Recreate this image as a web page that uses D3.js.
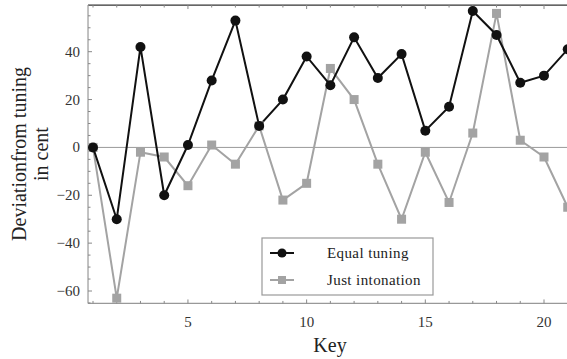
<!DOCTYPE html>
<html>
<head>
<meta charset="utf-8">
<script src="https://cdn.jsdelivr.net/npm/d3@7"></script>
<style>
  body { margin: 0; background: #fff; }
  svg { display: block; }
  svg text { font-family: "Liberation Serif", "DejaVu Serif", serif; }
</style>
</head>
<body>
<svg id="chart"></svg>
<script>
const keys = d3.range(1, 22);
const equalTuning = [0, -30, 42, -20, 1, 28, 53, 9, 20, 38, 26, 46, 29, 39, 7, 17, 57, 47, 27, 30, 41];
const justIntonation = [0, -63, -2, -4, -16, 1, -7, 9, -22, -15, 33, 20, -7, -30, -2, -23, 6, 56, 3, -4, -25];
const xTicks = [5, 10, 15, 20];
const yTicks = [-60, -40, -20, 0, 20, 40];

const svgWidth = 567, svgHeight = 359;
const svg = d3.select('#chart')
    .attr('width', svgWidth)
    .attr('height', svgHeight);

const x = d3.scaleLinear().domain([1, 20]).range([93, 544]);
const y = d3.scaleLinear().domain([-60, 40]).range([291, 51.7]);
const xMin = 0.79, xMax = 21.5, yMin = -65.2, yMax = 59.5;
const plotLeft = x(xMin), plotRight = x(xMax), plotTop = y(yMax), plotBottom = y(yMin);

// frame
svg.append('line').attr('x1', plotLeft).attr('x2', plotRight).attr('y1', plotTop).attr('y2', plotTop)
    .attr('stroke', '#333').attr('stroke-width', 1.2);
svg.append('line').attr('x1', plotLeft).attr('x2', plotLeft).attr('y1', plotTop).attr('y2', plotBottom)
    .attr('stroke', '#999').attr('stroke-width', 1.2);
svg.append('line').attr('x1', plotLeft).attr('x2', plotRight).attr('y1', plotBottom).attr('y2', plotBottom)
    .attr('stroke', '#999').attr('stroke-width', 1.2);

// zero line
svg.append('line').attr('x1', plotLeft).attr('x2', plotRight).attr('y1', y(0)).attr('y2', y(0))
    .attr('stroke', '#999').attr('stroke-width', 1);

// x ticks (bottom and top, pointing inward)
const xMinor = d3.range(1, 22);
svg.append('g').selectAll('line').data(xMinor).enter().append('line')
    .attr('x1', d => x(d)).attr('x2', d => x(d))
    .attr('y1', plotBottom).attr('y2', d => plotBottom - (d % 5 === 0 ? 4 : 2.5))
    .attr('stroke', '#888');
svg.append('g').selectAll('line').data(xMinor).enter().append('line')
    .attr('x1', d => x(d)).attr('x2', d => x(d))
    .attr('y1', plotTop).attr('y2', d => plotTop + (d % 5 === 0 ? 4 : 2.5))
    .attr('stroke', '#888');
svg.append('g').selectAll('text').data(xTicks).enter().append('text')
    .attr('x', d => x(d)).attr('y', 327)
    .attr('text-anchor', 'middle')
    .attr('font-size', 15).attr('fill', '#333')
    .text(d => d);

// y ticks
const yMinor = d3.range(-65, 60, 5);
svg.append('g').selectAll('line').data(yMinor).enter().append('line')
    .attr('x1', plotLeft).attr('x2', d => plotLeft + (d % 20 === 0 ? 4 : 2.5))
    .attr('y1', d => y(d)).attr('y2', d => y(d))
    .attr('stroke', '#888');
svg.append('g').selectAll('text').data(yTicks).enter().append('text')
    .attr('x', 80).attr('y', d => y(d) + 5)
    .attr('text-anchor', 'end')
    .attr('font-size', 15).attr('fill', '#333')
    .text(d => d < 0 ? '\u2212' + Math.abs(d) : d);

// axis labels
svg.append('text').attr('x', 330).attr('y', 352)
    .attr('text-anchor', 'middle').attr('font-size', 20).attr('fill', '#222')
    .text('Key');
const yl = svg.append('text')
    .attr('transform', 'translate(0,154) rotate(-90)')
    .attr('text-anchor', 'middle').attr('font-size', 20).attr('fill', '#222');
yl.append('tspan').attr('x', 0).attr('y', 26).text('Deviationfrom tuning');
yl.append('tspan').attr('x', 0).attr('y', 48).text('in cent');

// series
const plot = svg.append('g');
const line = d3.line().x((d, i) => x(keys[i])).y(d => y(d));

const gray = '#a3a3a3';
plot.append('path').datum(justIntonation).attr('d', line)
    .attr('fill', 'none').attr('stroke', gray).attr('stroke-width', 2);
plot.append('path').datum(equalTuning).attr('d', line)
    .attr('fill', 'none').attr('stroke', '#111').attr('stroke-width', 2);

const sq = 9;
plot.selectAll('rect').data(justIntonation).enter().append('rect')
    .attr('x', (d, i) => x(keys[i]) - sq / 2)
    .attr('y', d => y(d) - sq / 2)
    .attr('width', sq).attr('height', sq)
    .attr('fill', gray);
plot.selectAll('circle').data(equalTuning).enter().append('circle')
    .attr('cx', (d, i) => x(keys[i]))
    .attr('cy', d => y(d))
    .attr('r', 5)
    .attr('fill', '#111');

// legend
const lg = svg.append('g');
lg.append('rect').attr('x', 262).attr('y', 238).attr('width', 171).attr('height', 57)
    .attr('fill', '#fff').attr('stroke', '#999').attr('stroke-width', 1.2);
const legendItems = [
    { name: 'Equal tuning', color: '#111', shape: 'circle', y: 253 },
    { name: 'Just intonation', color: gray, shape: 'rect', y: 280 }
];
legendItems.forEach(it => {
    lg.append('line').attr('x1', 270).attr('x2', 294).attr('y1', it.y).attr('y2', it.y)
        .attr('stroke', it.color).attr('stroke-width', 2);
    if (it.shape === 'circle') {
        lg.append('circle').attr('cx', 282).attr('cy', it.y).attr('r', 4.5).attr('fill', it.color);
    } else {
        lg.append('rect').attr('x', 278).attr('y', it.y - 4).attr('width', 8).attr('height', 8).attr('fill', it.color);
    }
    lg.append('text').attr('x', 327).attr('y', it.y + 5)
        .attr('font-size', 15).attr('fill', '#222')
        .attr('letter-spacing', 0.4)
        .text(it.name);
});
</script>
</body>
</html>
